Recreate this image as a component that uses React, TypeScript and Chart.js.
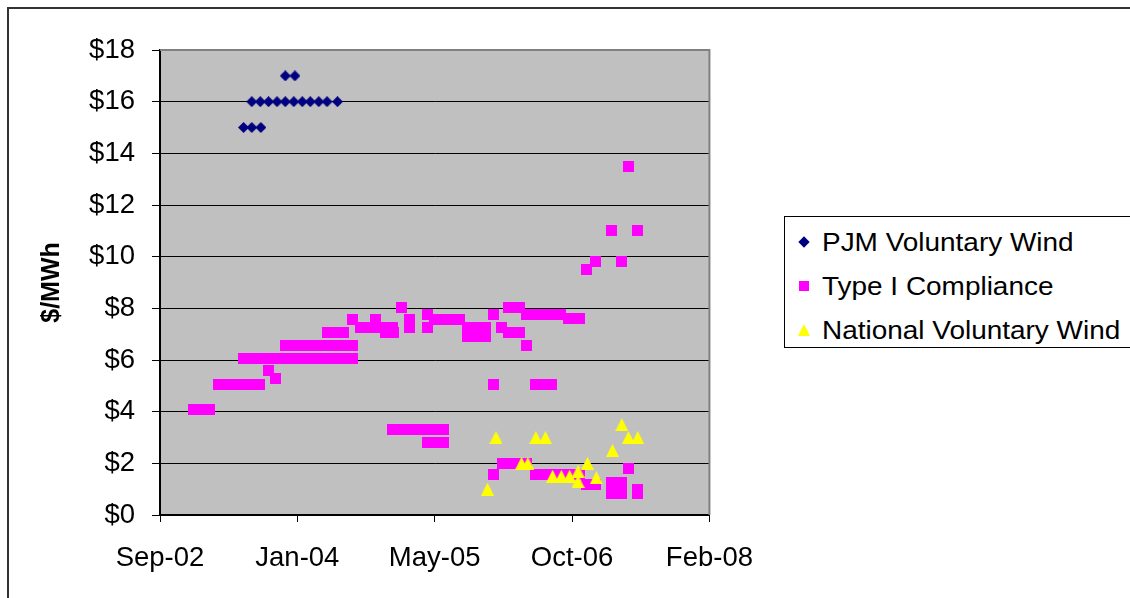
import React, { useEffect, useRef } from 'react';
import { Chart, registerables } from 'chart.js';

Chart.register(...registerables);

const FONT = '"Liberation Sans", Arial, Helvetica, sans-serif';

// ---- axes ----
const xAxisStart = '2002-09-01';
const xAxisEnd = '2008-02-22';
const xStepDays = 500;
const yMin = 0;
const yMax = 18;
const yStep = 2;
const yTitle = '$/MWh';

// ---- series names ----
const seriesNames = ['PJM Voluntary Wind', 'Type I Compliance', 'National Voluntary Wind'];

// ---- PJM Voluntary Wind ----
const pjmDates = [
  '2003-07-02', '2003-08-01', '2003-09-03',
  '2003-08-01', '2003-09-01', '2003-10-01', '2003-11-01', '2003-12-01', '2004-01-01',
  '2004-02-01', '2004-03-01', '2004-04-01', '2004-05-01', '2004-06-08',
  '2003-12-01', '2004-01-05',
];
const pjmValues = [
  15, 15, 15,
  16, 16, 16, 16, 16, 16,
  16, 16, 16, 16, 16,
  17, 17,
];

// ---- Type I Compliance ----
const typeIDates = [
  '2003-01-01', '2003-02-01', '2003-03-01',
  '2003-04-01', '2003-05-01', '2003-06-01', '2003-07-01', '2003-08-01', '2003-08-29',
  '2003-10-01', '2003-10-27',
  '2003-07-01', '2003-08-01', '2003-09-01', '2003-10-01', '2003-11-01', '2003-12-01', '2004-01-01',
  '2004-02-01', '2004-03-01', '2004-04-01', '2004-05-01', '2004-06-01', '2004-07-01', '2004-08-01',
  '2003-12-01', '2004-01-01', '2004-02-01', '2004-03-01', '2004-04-01', '2004-05-01', '2004-06-01',
  '2004-07-01', '2004-08-01',
  '2004-05-01', '2004-06-01', '2004-07-01',
  '2004-08-01',
  '2004-09-01', '2004-10-01', '2004-11-01', '2004-12-01', '2004-12-25',
  '2004-10-26',
  '2004-12-01', '2004-12-28',
  '2005-01-28',
  '2005-02-24', '2005-02-24',
  '2005-05-01', '2005-05-01',
  '2005-05-26', '2005-06-26', '2005-07-26', '2005-08-28',
  '2005-09-24', '2005-10-26', '2005-11-28',
  '2005-09-24', '2005-10-26', '2005-11-28',
  '2005-12-27', '2005-12-27', '2005-12-27',
  '2006-01-27',
  '2006-02-22', '2006-04-01',
  '2006-02-22', '2006-04-01',
  '2006-04-26', '2006-05-26', '2006-06-26', '2006-07-26', '2006-08-28',
  '2006-09-26', '2006-10-16', '2006-11-05',
  '2006-04-27',
  '2006-05-29', '2006-06-28', '2006-07-28',
  '2004-12-27', '2005-01-27', '2005-02-27', '2005-03-27', '2005-04-27', '2005-05-27', '2005-06-30',
  '2005-05-01', '2005-05-31', '2005-06-30',
  '2006-01-31', '2006-02-28', '2006-03-31', '2006-04-27',
  '2006-05-29', '2006-06-28', '2006-07-28', '2006-08-28', '2006-09-28', '2006-10-28', '2006-11-05',
  '2006-12-01', '2007-01-04',
  '2006-12-01',
  '2007-01-05', '2007-04-07',
  '2007-03-03', '2007-06-05',
  '2007-05-03', '2007-05-03',
  '2007-03-03', '2007-04-07',
  '2007-03-03', '2007-04-07',
  '2007-06-05', '2007-06-05',
];
const typeIValues = [
  4.1, 4.1, 4.1,
  5.05, 5.05, 5.05, 5.05, 5.05, 5.05,
  5.6, 5.3,
  6.05, 6.05, 6.05, 6.05, 6.05, 6.05, 6.05,
  6.05, 6.05, 6.05, 6.05, 6.05, 6.05, 6.05,
  6.55, 6.55, 6.55, 6.55, 6.55, 6.55, 6.55,
  6.55, 6.55,
  7.05, 7.05, 7.05,
  7.55,
  7.25, 7.25, 7.25, 7.25, 7.25,
  7.55,
  7.05, 7.05,
  8.05,
  7.55, 7.25,
  7.75, 7.25,
  7.55, 7.55, 7.55, 7.55,
  7.25, 7.25, 7.25,
  6.9, 6.9, 6.9,
  7.75, 5.05, 1.55,
  7.25,
  8.05, 8.05,
  7.05, 7.05,
  7.75, 7.75, 7.75, 7.75, 7.75,
  7.6, 7.6, 7.6,
  6.55,
  5.05, 5.05, 5.05,
  3.3, 3.3, 3.3, 3.3, 3.3, 3.3, 3.3,
  2.8, 2.8, 2.8,
  2.0, 2.0, 2.0, 2.0,
  1.55, 1.55, 1.55, 1.55, 1.55, 1.55, 1.55,
  1.2, 1.2,
  9.5,
  9.8, 9.8,
  11, 11,
  13.5, 1.8,
  1.25, 1.25,
  0.85, 0.85,
  1.0, 0.85,
];

// ---- National Voluntary Wind ----
const nationalDates = [
  '2005-12-06', '2006-01-06', '2006-04-09', '2006-05-02', '2006-05-31', '2006-07-05',
  '2006-07-31', '2006-09-01', '2006-10-01', '2006-11-01', '2006-11-01', '2006-12-05',
  '2007-01-06', '2007-03-06', '2007-04-09', '2007-05-03', '2007-06-06',
];
const nationalValues = [
  1.0, 3.0, 2.0, 2.0, 3.0, 3.0,
  1.5, 1.5, 1.5, 1.7, 1.3, 2.0,
  1.45, 2.5, 3.5, 3.0, 3.0,
];

// ---- helpers ----
const EXCEL_EPOCH = Date.UTC(1899, 11, 30);
const DAY = 86400000;
const MONTHS = ['Jan', 'Feb', 'Mar', 'Apr', 'May', 'Jun', 'Jul', 'Aug', 'Sep', 'Oct', 'Nov', 'Dec'];
const toSerial = (iso: string) => Math.round((Date.parse(iso + 'T00:00:00Z') - EXCEL_EPOCH) / DAY);
const serialLabel = (s: number) => {
  const d = new Date(EXCEL_EPOCH + s * DAY);
  return MONTHS[d.getUTCMonth()] + '-' + String(d.getUTCFullYear() % 100).padStart(2, '0');
};
const toPoints = (dates: string[], values: number[]) => dates.map((d, i) => ({ x: toSerial(d), y: values[i] }));

function markerCanvas(shape: string, color: string, w: number, h: number) {
  const c = document.createElement('canvas');
  c.width = w;
  c.height = h;
  const g = c.getContext('2d')!;
  g.fillStyle = color;
  g.beginPath();
  if (shape === 'diamond') {
    g.moveTo(w / 2, 0);
    g.lineTo(w, h / 2);
    g.lineTo(w / 2, h);
    g.lineTo(0, h / 2);
  } else if (shape === 'square') {
    g.rect(0, 0, w, h);
  } else {
    g.moveTo(w / 2, 0);
    g.lineTo(w, h);
    g.lineTo(0, h);
  }
  g.closePath();
  g.fill();
  return c;
}

const plotFrame = {
  id: 'plotFrame',
  beforeDraw(chart: any) {
    const { ctx, chartArea: a } = chart;
    ctx.save();
    ctx.fillStyle = '#C0C0C0';
    ctx.fillRect(a.left, a.top, a.right - a.left, a.bottom - a.top);
    ctx.restore();
  },
  beforeDatasetsDraw(chart: any) {
    const { ctx, chartArea: a } = chart;
    ctx.save();
    ctx.strokeStyle = '#808080';
    ctx.lineWidth = 2;
    ctx.beginPath();
    ctx.moveTo(a.left, a.top);
    ctx.lineTo(a.right, a.top);
    ctx.lineTo(a.right, a.bottom);
    ctx.stroke();
    ctx.restore();
  },
};

const NAVY = '#000080';
const MAGENTA = '#FF00FF';
const YELLOW = '#FFFF00';

const CANVAS_W = 773;
const CANVAS_H = 598;

export default function App() {
  const ref = useRef<HTMLCanvasElement>(null);

  useEffect(() => {
    const diamond = markerCanvas('diamond', NAVY, 11, 11);
    const square = markerCanvas('square', MAGENTA, 11, 11);
    const triangle = markerCanvas('triangle', YELLOW, 13, 13);
    const chart = new Chart(ref.current!, {
      type: 'scatter',
      data: {
        datasets: [
          { label: seriesNames[0], data: toPoints(pjmDates, pjmValues), pointStyle: diamond as any, order: 2 },
          { label: seriesNames[1], data: toPoints(typeIDates, typeIValues), pointStyle: square as any, order: 1 },
          { label: seriesNames[2], data: toPoints(nationalDates, nationalValues), pointStyle: triangle as any, order: 0 },
        ],
      },
      options: {
        responsive: false,
        animation: false,
        devicePixelRatio: 1,
        layout: { padding: { top: 50, right: 62, left: 0, bottom: 0 } },
        plugins: { legend: { display: false }, tooltip: { enabled: false } },
        scales: {
          x: {
            type: 'linear',
            min: toSerial(xAxisStart),
            max: toSerial(xAxisEnd),
            afterFit: (s: any) => { s.height = 83; },
            grid: { drawOnChartArea: false, color: '#000', tickLength: 7, lineWidth: 1 },
            border: { color: '#000', width: 2 },
            ticks: {
              stepSize: xStepDays,
              autoSkip: false,
              maxRotation: 0,
              padding: 20,
              color: '#000',
              font: { family: FONT, size: 27.5 },
              callback: (v: any) => serialLabel(Number(v)),
            },
          },
          y: {
            min: yMin,
            max: yMax,
            afterFit: (s: any) => { s.width = 160; },
            grid: { color: '#000', tickLength: 8, lineWidth: 1 },
            border: { color: '#000', width: 2 },
            ticks: {
              stepSize: yStep,
              padding: 17,
              color: '#000',
              font: { family: FONT, size: 27.5 },
              callback: (v: any) => '$' + v,
            },
            title: {
              display: true,
              text: yTitle,
              color: '#000',
              font: { family: FONT, size: 25, weight: 'bold' },
              padding: { top: 37, bottom: 0 },
            },
          },
        },
      },
      plugins: [plotFrame],
    });
    return () => chart.destroy();
  }, []);

  const legendRows = [
    { name: seriesNames[0], top: 227, marker: 'diamond', cy: 242 },
    { name: seriesNames[1], top: 270.5, marker: 'square', cy: 286 },
    { name: seriesNames[2], top: 314.5, marker: 'triangle', cy: 330.5 },
  ];

  const markerEl = (m: string, cy: number) => {
    if (m === 'diamond') {
      return <div style={{ position: 'absolute', left: 800, top: cy - 4, width: 8, height: 8, background: NAVY, transform: 'rotate(45deg)' }} />;
    }
    if (m === 'square') {
      return <div style={{ position: 'absolute', left: 799, top: cy - 5, width: 10, height: 10, background: MAGENTA }} />;
    }
    return (
      <div style={{ position: 'absolute', left: 798, top: cy - 6.5, width: 0, height: 0, borderLeft: '6.5px solid transparent', borderRight: '6.5px solid transparent', borderBottom: '12.5px solid ' + YELLOW }} />
    );
  };

  return (
    <div style={{ position: 'absolute', left: 0, top: 0, width: 1130, height: 598, overflow: 'hidden', background: '#fff' }}>
      <div style={{ position: 'absolute', left: 7, top: 7, width: 1140, height: 610, borderLeft: '2px solid #333', borderTop: '2px solid #333', boxSizing: 'border-box' }} />
      <canvas ref={ref} width={CANVAS_W} height={CANVAS_H} style={{ position: 'absolute', left: 0, top: 0, width: CANVAS_W, height: CANVAS_H }} />
      <div style={{ position: 'absolute', left: 784, top: 216, width: 420, height: 132, border: '1px solid #000', boxSizing: 'border-box', background: '#fff' }} />
      {legendRows.map((r) => (
        <React.Fragment key={r.name}>
          {markerEl(r.marker, r.cy)}
          <div style={{ position: 'absolute', left: 822, top: r.top, fontFamily: FONT, fontSize: 26, lineHeight: '30px', whiteSpace: 'nowrap', color: '#000', transform: 'scaleX(1.075)', transformOrigin: 'left center' }}>
            {r.name}
          </div>
        </React.Fragment>
      ))}
    </div>
  );
}
